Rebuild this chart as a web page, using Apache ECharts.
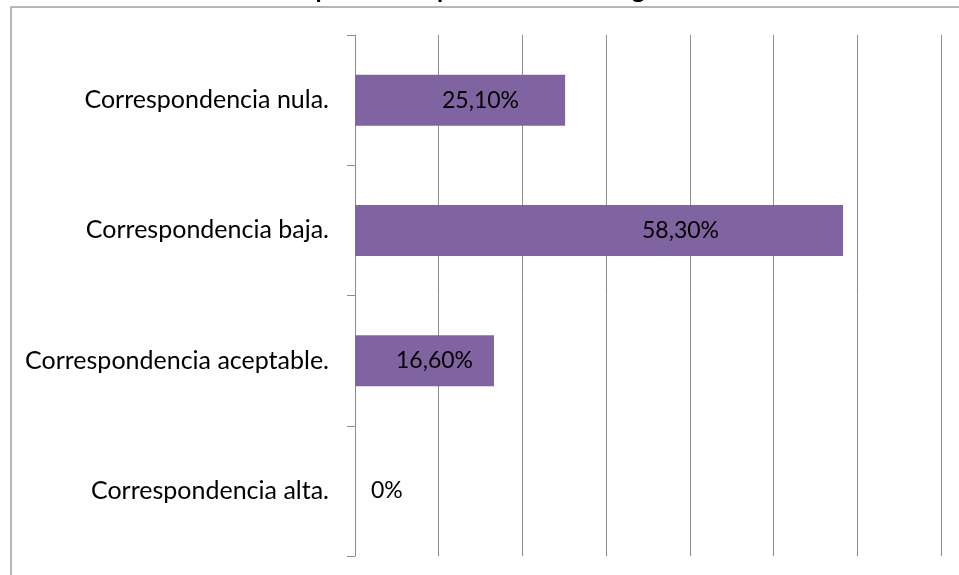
<!DOCTYPE html>
<html>
<head>
<meta charset="utf-8">
<script src="https://cdn.jsdelivr.net/npm/echarts@6/dist/echarts.min.js"></script>
<style>
html,body{margin:0;padding:0;background:#fff;}
#chart{width:959px;height:575px;}
</style>
</head>
<body>
<div id="chart"></div>
<script>
var titleText = 'Correspondencia por tema de la asignatura';
var categories = ['Correspondencia alta.', 'Correspondencia aceptable.', 'Correspondencia baja.', 'Correspondencia nula.'];
var values = [0, 16.6, 58.3, 25.1];
var axisMin = 0, axisMax = 70, axisInterval = 10;
// label horizontal offsets (px from bar start), styling only
var labelOffsets = [16, 41, 287, 87];

var chart = echarts.init(document.getElementById('chart'));
var FONT = 'Lato, "Liberation Sans", sans-serif';
function fmt(v){ return v === 0 ? '0%' : v.toFixed(2).replace('.', ',') + '%'; }

chart.setOption({
  animation: false,
  backgroundColor: '#fff',
  title: {
    text: titleText, left: 'center', top: -23, padding: 0,
    textStyle: { fontFamily: FONT, fontSize: 25, fontWeight: 'bold', color: '#000' }
  },
  graphic: [{
    type: 'rect', left: 8.5, top: 4.5, z: -1,
    shape: { width: 1000, height: 1000 },
    style: { fill: 'none', stroke: '#a0a0a0', lineWidth: 1.5 }
  }],
  grid: { left: 355, right: 18, top: 35, bottom: 19, containLabel: false },
  xAxis: {
    type: 'value', min: axisMin, max: axisMax, interval: axisInterval,
    axisLine: { show: false }, axisTick: { show: false }, axisLabel: { show: false },
    splitLine: { show: true, lineStyle: { color: '#8c8c8c', width: 1 } }
  },
  yAxis: {
    type: 'category', data: categories,
    axisLine: { show: true, lineStyle: { color: '#8c8c8c', width: 1 } },
    axisTick: { show: true, length: 8, lineStyle: { color: '#8c8c8c' } },
    axisLabel: { margin: 26, fontFamily: FONT, fontSize: 25, color: '#000' }
  },
  series: [{
    type: 'bar',
    barWidth: 51,
    itemStyle: { color: '#8064A2' },
    data: values.map(function(v, i){
      return {
        value: v,
        label: {
          show: true, position: 'insideLeft', distance: 0,
          offset: [labelOffsets[i], 0],
          formatter: function(p){ return fmt(p.value); },
          fontFamily: FONT, fontSize: 23, color: '#000'
        }
      };
    })
  }]
});
</script>
</body>
</html>
